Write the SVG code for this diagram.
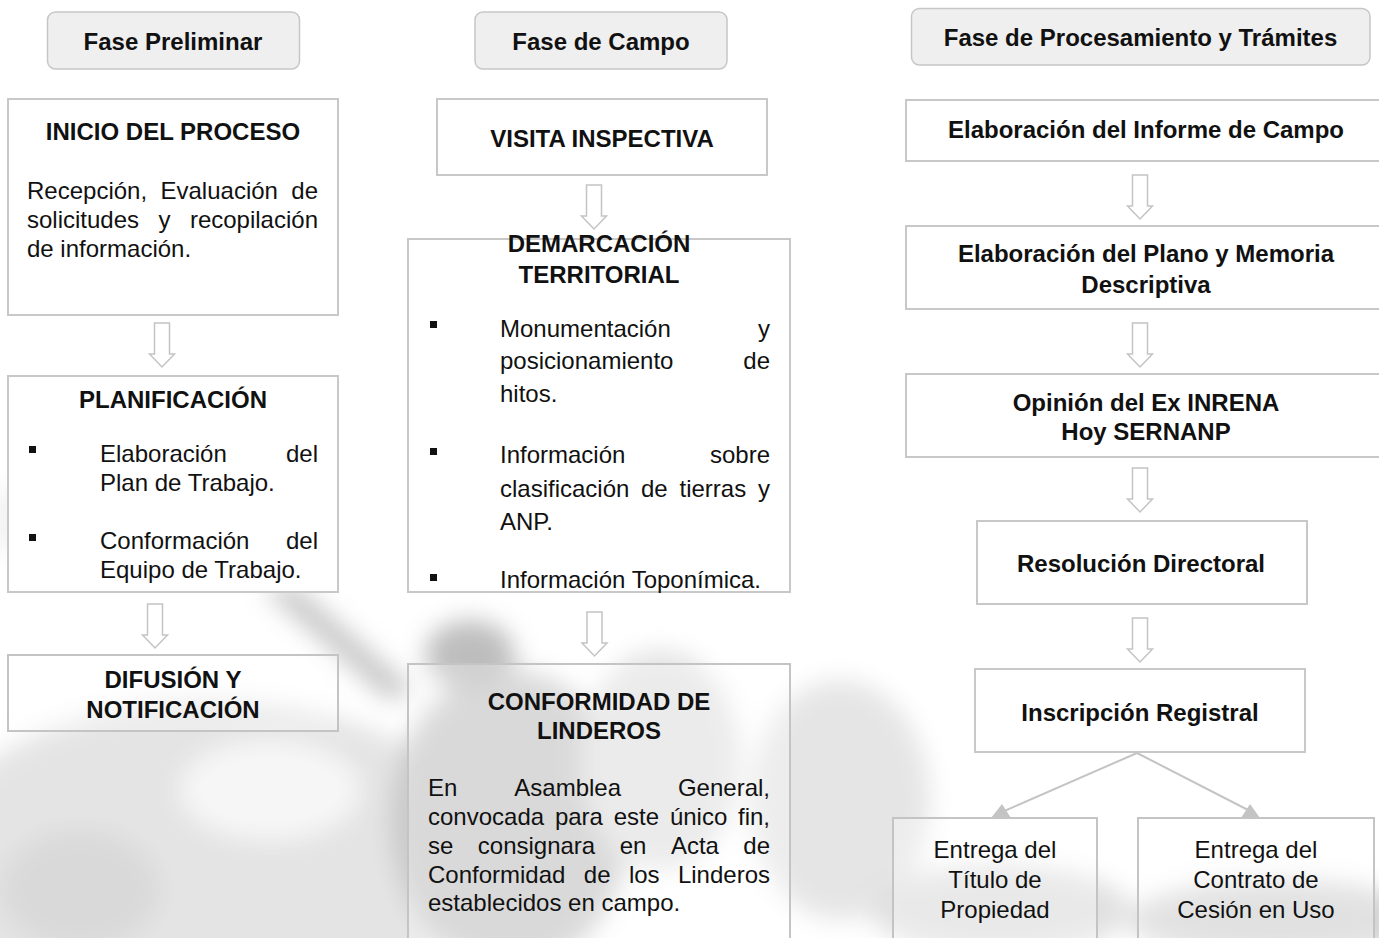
<svg xmlns="http://www.w3.org/2000/svg" width="1379" height="938" viewBox="0 0 1379 938">
<style>
.b{font-family:"Liberation Sans",Arial,sans-serif;font-weight:bold;font-size:24px;fill:#111}
.r{font-family:"Liberation Sans",Arial,sans-serif;font-size:24px;fill:#111}
.c{text-anchor:middle}
.e{text-anchor:end}
.box{fill:#fff;stroke:#c8c8c8;stroke-width:2}
.tbox{fill:#fff;fill-opacity:0.3;stroke:#c4c4c4;stroke-width:2}
.phase{fill:#efefef;stroke:#c6c6c6;stroke-width:1.5}
.arr{fill:#fff;stroke:#c4c4c4;stroke-width:1.5}
.ln{stroke:#c4c4c4;stroke-width:2;fill:none}
.hd{fill:#c4c4c4}
.bul{fill:#111}
</style>
<defs>
<filter id="blur" x="-20%" y="-20%" width="140%" height="140%"><feGaussianBlur stdDeviation="12"/></filter>
<path id="arrow" d="M-7.5 0 H7.5 V31 H12.5 L0 44 L-12.5 31 H-7.5 Z"/>
</defs>
<rect width="1379" height="938" fill="#fff"/>
<g id="background" filter="url(#blur)" opacity="0.75">
<ellipse cx="210" cy="860" rx="280" ry="160" fill="#dcdcdc"/>
<ellipse cx="80" cy="890" rx="80" ry="60" fill="#cdcdcd"/>
<ellipse cx="270" cy="790" rx="90" ry="50" fill="#f4f4f4"/>
<path d="M262 588 L296 586 L415 690 L388 700 Z" fill="#b4b4b4"/>
<ellipse cx="510" cy="820" rx="120" ry="150" fill="#b8b8b8"/>
<ellipse cx="470" cy="655" rx="45" ry="35" fill="#a8a8a8"/>
<ellipse cx="660" cy="760" rx="80" ry="110" fill="#dadada"/>
<ellipse cx="840" cy="800" rx="90" ry="120" fill="#dddddd"/>
<ellipse cx="1000" cy="910" rx="130" ry="45" fill="#d6d6d6"/>
<ellipse cx="1280" cy="920" rx="150" ry="40" fill="#c8c8c8"/>
<ellipse cx="40" cy="520" rx="60" ry="40" fill="#f0f0f0"/>
</g>
<g id="phase-preliminar"><rect class="phase" x="47.5" y="12" width="252" height="57" rx="8"/><text class="b c" x="173" y="50">Fase Preliminar</text></g>
<g id="phase-campo"><rect class="phase" x="475" y="12" width="252" height="57" rx="8"/><text class="b c" x="601" y="50">Fase de Campo</text></g>
<g id="phase-procesamiento"><rect class="phase" x="911.5" y="8.5" width="458.5" height="56.5" rx="8"/><text class="b c" x="1140.5" y="46">Fase de Procesamiento y Trámites</text></g>

<g id="inicio"><rect class="box" x="8" y="99" width="330" height="216"/>
<text class="b c" x="173" y="140">INICIO DEL PROCESO</text>
<text class="r" x="27" y="199">Recepción,</text><text class="r" x="160.5" y="199">Evaluación</text><text class="r e" x="318" y="199">de</text>
<text class="r" x="27" y="228">solicitudes</text><text class="r" x="158.5" y="228">y</text><text class="r e" x="318" y="228">recopilación</text>
<text class="r" x="27" y="257">de información.</text></g>

<g id="planificacion"><rect class="box" x="8" y="376" width="330" height="216"/>
<text class="b c" x="173" y="408">PLANIFICACIÓN</text>
<rect class="bul" x="29" y="446" width="7" height="7"/>
<text class="r" x="100" y="462">Elaboración</text><text class="r e" x="318" y="462">del</text>
<text class="r" x="100" y="491">Plan de Trabajo.</text>
<rect class="bul" x="29" y="534" width="7" height="7"/>
<text class="r" x="100" y="549">Conformación</text><text class="r e" x="318" y="549">del</text>
<text class="r" x="100" y="578">Equipo de Trabajo.</text></g>

<g id="difusion"><rect class="tbox" x="8" y="655" width="330" height="76"/>
<text class="b c" x="173" y="688">DIFUSIÓN Y</text>
<text class="b c" x="173" y="718">NOTIFICACIÓN</text></g>

<g id="visita"><rect class="box" x="437" y="99" width="330" height="76"/>
<text class="b c" x="602" y="147">VISITA INSPECTIVA</text></g>

<g id="demarcacion"><rect class="box" x="408" y="239" width="382" height="353"/>
<text class="b c" x="599" y="252">DEMARCACIÓN</text>
<text class="b c" x="599" y="283">TERRITORIAL</text>
<rect class="bul" x="430" y="321" width="7" height="7"/>
<text class="r" x="500" y="337">Monumentación</text><text class="r e" x="770" y="337">y</text>
<text class="r" x="500" y="369">posicionamiento</text><text class="r e" x="770" y="369">de</text>
<text class="r" x="500" y="402">hitos.</text>
<rect class="bul" x="430" y="448" width="7" height="7"/>
<text class="r" x="500" y="463">Información</text><text class="r e" x="770" y="463">sobre</text>
<text class="r" x="500" y="497">clasificación</text><text class="r" x="641" y="497">de</text><text class="r" x="679.5" y="497">tierras</text><text class="r e" x="770" y="497">y</text>
<text class="r" x="500" y="530">ANP.</text>
<rect class="bul" x="430" y="574" width="7" height="7"/>
<text class="r" x="500" y="588">Información Toponímica.</text></g>

<g id="conformidad"><rect class="tbox" x="408" y="664" width="382" height="290"/>
<text class="b c" x="599" y="710">CONFORMIDAD DE</text>
<text class="b c" x="599" y="739">LINDEROS</text>
<text class="r" x="428" y="796">En</text><text class="r" x="514.3" y="796">Asamblea</text><text class="r e" x="770" y="796">General,</text>
<text class="r" x="428" y="825">convocada</text><text class="r" x="554.9" y="825">para</text><text class="r" x="613.7" y="825">este</text><text class="r" x="669.9" y="825">único</text><text class="r e" x="770" y="825">fin,</text>
<text class="r" x="428" y="854">se</text><text class="r" x="477.8" y="854">consignara</text><text class="r" x="619.7" y="854">en</text><text class="r" x="670.9" y="854">Acta</text><text class="r e" x="770" y="854">de</text>
<text class="r" x="428" y="883">Conformidad</text><text class="r" x="583.8" y="883">de</text><text class="r" x="628.9" y="883">los</text><text class="r e" x="770" y="883">Linderos</text>
<text class="r" x="428" y="911">establecidos en campo.</text></g>

<g id="informe"><rect class="box" x="906" y="100" width="480" height="61"/>
<text class="b c" x="1146" y="138">Elaboración del Informe de Campo</text></g>

<g id="plano"><rect class="box" x="906" y="226" width="480" height="83"/>
<text class="b c" x="1146" y="262">Elaboración del Plano y Memoria</text>
<text class="b c" x="1146" y="293">Descriptiva</text></g>

<g id="opinion"><rect class="box" x="906" y="374" width="480" height="83"/>
<text class="b c" x="1146" y="411">Opinión del Ex INRENA</text>
<text class="b c" x="1146" y="440">Hoy SERNANP</text></g>

<g id="resolucion"><rect class="box" x="977" y="521" width="330" height="83"/>
<text class="b c" x="1141" y="572">Resolución Directoral</text></g>

<g id="inscripcion"><rect class="box" x="975" y="669" width="330" height="83"/>
<text class="b c" x="1140" y="721">Inscripción Registral</text></g>

<g id="titulo"><rect class="tbox" x="893" y="818" width="204" height="140"/>
<text class="r c" x="995" y="858">Entrega del</text>
<text class="r c" x="995" y="888">Título de</text>
<text class="r c" x="995" y="918">Propiedad</text></g>

<g id="contrato"><rect class="tbox" x="1138" y="818" width="236" height="140"/>
<text class="r c" x="1256" y="858">Entrega del</text>
<text class="r c" x="1256" y="888">Contrato de</text>
<text class="r c" x="1256" y="918">Cesión en Uso</text></g>

<g id="connectors">
<use href="#arrow" class="arr" x="162" y="323"/>
<use href="#arrow" class="arr" x="155" y="604"/>
<use href="#arrow" class="arr" x="594" y="185"/>
<use href="#arrow" class="arr" x="594.5" y="612"/>
<use href="#arrow" class="arr" x="1140" y="175"/>
<use href="#arrow" class="arr" x="1140" y="323"/>
<use href="#arrow" class="arr" x="1140" y="468"/>
<use href="#arrow" class="arr" x="1140" y="618"/>
<line class="ln" x1="1137" y1="753" x2="1002" y2="812"/>
<polygon class="hd" points="991,818 1011,818 1002,804"/>
<line class="ln" x1="1137" y1="753" x2="1250" y2="811"/>
<polygon class="hd" points="1241,818 1260,818 1250,804"/>
</g>
</svg>
